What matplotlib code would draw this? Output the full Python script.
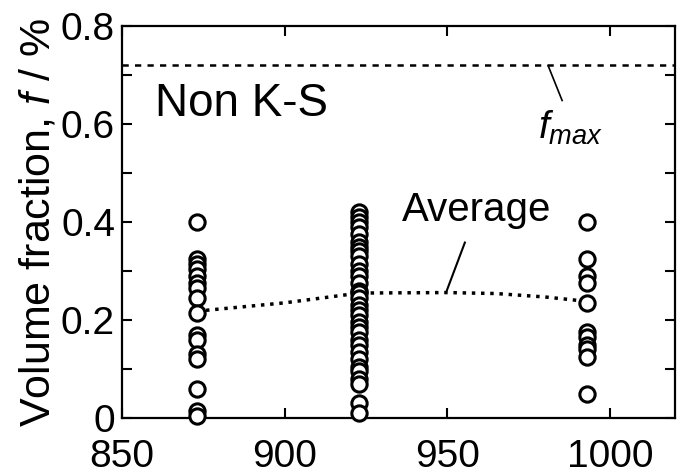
import matplotlib
matplotlib.use("Agg")
import matplotlib.pyplot as plt
from matplotlib.ticker import MultipleLocator

plt.rcParams['font.family'] = ['Liberation Sans', 'DejaVu Sans']
plt.rcParams['mathtext.fontset'] = 'custom'
plt.rcParams['mathtext.it'] = 'Liberation Sans:italic'
plt.rcParams['mathtext.rm'] = 'Liberation Sans'

# temperatures (x) and measured volume fractions
t1 = 873
f1 = [0.40, 0.325, 0.315, 0.305, 0.29, 0.275, 0.265, 0.245, 0.215,
      0.17, 0.16, 0.13, 0.12, 0.06, 0.015, 0.005]
t2 = 923
f2 = [0.42, 0.41, 0.40, 0.39, 0.375, 0.36, 0.35, 0.34, 0.33, 0.315,
      0.30, 0.29, 0.275, 0.26, 0.255, 0.245, 0.23, 0.22, 0.21, 0.195,
      0.185, 0.175, 0.16, 0.15, 0.135, 0.12, 0.105, 0.095, 0.08, 0.07,
      0.03, 0.01]
t3 = 993
f3 = [0.40, 0.325, 0.29, 0.275, 0.235, 0.175, 0.165, 0.15, 0.14, 0.125, 0.05]

avg_t = [873, 900, 923, 950, 965, 980, 993]
avg_f = [0.218, 0.235, 0.255, 0.256, 0.254, 0.247, 0.238]

f_max = 0.72

fig = plt.figure(figsize=(6.83, 4.75), dpi=100)
ax = fig.add_axes([122 / 683, 1 - 418 / 475, 553 / 683, 392 / 475])

for t, f in [(t1, f1), (t2, f2), (t3, f3)]:
    ax.plot([t] * len(f), f, 'o', ms=11, mfc='white', mec='black', mew=2.2,
            clip_on=False, zorder=3)

ax.plot(avg_t, avg_f, color='black', ls=':', lw=2.5, zorder=2)
ax.axhline(f_max, color='black', lw=1.8, dashes=(2.5, 2.5))

ax.plot([981, 985.3], [0.719, 0.648], color='black', lw=1.2)
ax.plot([955.4, 949.9], [0.358, 0.261], color='black', lw=1.5)

ax.text(860, 0.617, 'Non K-S', fontsize=33)
ax.text(936, 0.403, 'Average', fontsize=29)
ax.text(978, 0.57, '$f_{max}$', fontsize=28)

ax.set_xlim(850, 1020)
ax.set_ylim(0, 0.8)
ax.set_xticks([850, 900, 950, 1000])
ax.set_yticks([0, 0.2, 0.4, 0.6, 0.8])
ax.set_yticklabels(['0', '0.2', '0.4', '0.6', '0.8'])
ax.yaxis.set_minor_locator(MultipleLocator(0.1))
ax.tick_params(which='both', direction='in', top=True, right=True,
               length=7, width=1.5, labelsize=28)
ax.tick_params(axis='y', pad=5)
ax.tick_params(axis='x', pad=15)
ax.set_ylabel('Volume fraction, $f$ / %', fontsize=31, labelpad=2)
for s in ax.spines.values():
    s.set_linewidth(1.6)

fig.savefig('out.png', dpi=100)
